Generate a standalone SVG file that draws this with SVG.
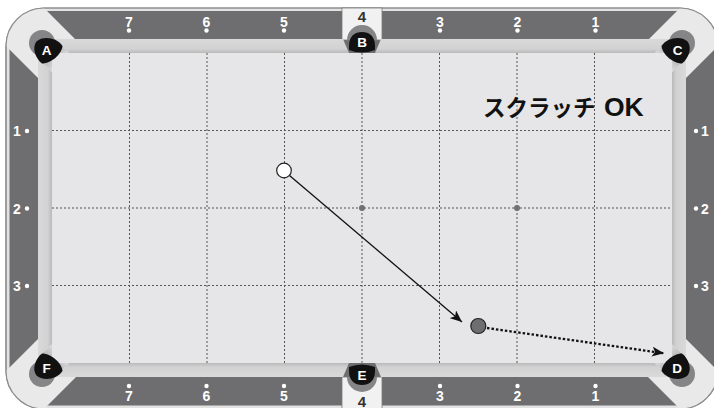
<svg xmlns="http://www.w3.org/2000/svg" xmlns:xlink="http://www.w3.org/1999/xlink" width="714" height="408" viewBox="0 0 714 408">
<style>
.num{font-family:"Liberation Sans",Arial,sans-serif;font-weight:bold;font-size:14px;fill:#ffffff;text-anchor:middle}
.four{font-family:"Liberation Sans",Arial,sans-serif;font-weight:bold;font-size:15px;fill:#333333;text-anchor:middle}
.plabel{font-family:"Liberation Sans",Arial,sans-serif;font-weight:bold;font-size:13.5px;fill:#ffffff;text-anchor:middle}
.grid{stroke:#555555;stroke-width:1;stroke-dasharray:2 2;fill:none}
.spot{fill:#ffffff}
.rail{fill:#6e6e70}
.wedge{fill:#e9e9ea}
.ring{fill:#858587}
.hole{fill:#111111}
</style>
<defs>
<linearGradient id="gTop" x1="0" y1="0" x2="0" y2="1"><stop offset="0" stop-color="#d9d9da"/><stop offset="0.7" stop-color="#d2d2d3"/><stop offset="1" stop-color="#b9b9ba"/></linearGradient>
<linearGradient id="gLeft" x1="0" y1="0" x2="1" y2="0"><stop offset="0" stop-color="#d9d9da"/><stop offset="0.7" stop-color="#d2d2d3"/><stop offset="1" stop-color="#b9b9ba"/></linearGradient>
<linearGradient id="gCh" x1="0" y1="0" x2="1" y2="1"><stop offset="0" stop-color="#7d7d7f"/><stop offset="0.8" stop-color="#e6e6e8"/></linearGradient>
<marker id="arr" markerUnits="userSpaceOnUse" markerWidth="13" markerHeight="10" refX="12" refY="5" orient="auto"><path d="M0,0 L12,5 L0,10 L3,5 Z" fill="#111"/></marker>
<path id="wedgeShape" class="wedge" d="M6,46 A38,38 0 0 1 44,8 L80,44 L42,82 Z"/>
<path id="channelShape" fill="url(#gCh)" d="M55,39 L69,53 L52,53 L52,72 L38,58 L38,39 Z"/>
<g id="cornerPocket">
<circle class="ring" cx="42" cy="43" r="13"/>
<path class="hole" d="M62.5,46 C57,37.5 43,35.5 36.5,41.5 C31.5,48 35.5,58.5 42,63.5 C50.5,63.5 61.5,55 62.5,46 Z"/>
</g>
<g id="midPocket">
<path class="ring" d="M347,40 A15,15 0 0 1 377,40 Z"/>
<path class="hole" d="M349,46 C349,36 355,32 362,32 C369,32 375,36 375,46 L375,50 Q362,55 349,50 Z"/>
</g>
</defs>

<g id="table">
<rect x="6" y="8" width="712" height="401" rx="38" fill="#e2e2e3" stroke="#8e8e90" stroke-width="1.2"/>
<rect class="rail" x="9.5" y="11" width="705" height="394.5" rx="35"/>
<use xlink:href="#wedgeShape"/>
<use xlink:href="#wedgeShape" transform="translate(724,0) scale(-1,1)"/>
<use xlink:href="#wedgeShape" transform="translate(0,417) scale(1,-1)"/>
<use xlink:href="#wedgeShape" transform="translate(724,417) scale(-1,-1)"/>
<rect x="6" y="8" width="712" height="401" rx="38" fill="none" stroke="#8e8e90" stroke-width="1.2"/>
<rect x="342" y="8" width="40" height="32" fill="#f1f1f2" stroke="#7a7a7c" stroke-width="0.8"/>
<rect x="342" y="377" width="40" height="32" fill="#f1f1f2" stroke="#7a7a7c" stroke-width="0.8"/>
<rect x="52" y="53" width="620" height="310" fill="#e6e6e8"/>
<polygon fill="url(#gTop)" points="55,39 343,39 349,53 69,53"/>
<polygon fill="url(#gTop)" points="381,39 669,39 655,53 375,53"/>
<polygon fill="url(#gTop)" transform="translate(0,416) scale(1,-1)" points="55,39 343,39 349,53 69,53"/>
<polygon fill="url(#gTop)" transform="translate(0,416) scale(1,-1)" points="381,39 669,39 655,53 375,53"/>
<polygon fill="url(#gLeft)" points="38,58 52,72 52,344 38,358"/>
<polygon fill="url(#gLeft)" transform="translate(724,0) scale(-1,1)" points="38,58 52,72 52,344 38,358"/>
<use xlink:href="#channelShape"/>
<use xlink:href="#channelShape" transform="translate(724,0) scale(-1,1)"/>
<use xlink:href="#channelShape" transform="translate(0,416) scale(1,-1)"/>
<use xlink:href="#channelShape" transform="translate(724,416) scale(-1,-1)"/>
</g>

<g id="grid">
<line class="grid" x1="129.5" y1="53" x2="129.5" y2="363"/>
<line class="grid" x1="207" y1="53" x2="207" y2="363"/>
<line class="grid" x1="284.5" y1="53" x2="284.5" y2="363"/>
<line class="grid" x1="362" y1="53" x2="362" y2="363"/>
<line class="grid" x1="439.5" y1="53" x2="439.5" y2="363"/>
<line class="grid" x1="517" y1="53" x2="517" y2="363"/>
<line class="grid" x1="594.5" y1="53" x2="594.5" y2="363"/>
<line class="grid" x1="52" y1="130.5" x2="672" y2="130.5"/>
<line class="grid" x1="52" y1="208" x2="672" y2="208"/>
<line class="grid" x1="52" y1="285.5" x2="672" y2="285.5"/>
<circle cx="362" cy="208" r="3" fill="#707072"/>
<circle cx="517" cy="208" r="3" fill="#707072"/>
</g>

<g id="rail-numbers">
<text class="num" x="129" y="27">7</text><circle class="spot" cx="129" cy="30.5" r="2.2"/>
<text class="num" x="206.5" y="27">6</text><circle class="spot" cx="206.5" cy="30.5" r="2.2"/>
<text class="num" x="284" y="27">5</text><circle class="spot" cx="284" cy="30.5" r="2.2"/>
<text class="num" x="440" y="27">3</text><circle class="spot" cx="440" cy="30.5" r="2.2"/>
<text class="num" x="517.5" y="27">2</text><circle class="spot" cx="517.5" cy="30.5" r="2.2"/>
<text class="num" x="595.5" y="27">1</text><circle class="spot" cx="595.5" cy="30.5" r="2.2"/>
<text class="num" x="129" y="401">7</text><circle class="spot" cx="129" cy="386" r="2.2"/>
<text class="num" x="206.5" y="401">6</text><circle class="spot" cx="206.5" cy="386" r="2.2"/>
<text class="num" x="284" y="401">5</text><circle class="spot" cx="284" cy="386" r="2.2"/>
<text class="num" x="440" y="401">3</text><circle class="spot" cx="440" cy="386" r="2.2"/>
<text class="num" x="517.5" y="401">2</text><circle class="spot" cx="517.5" cy="386" r="2.2"/>
<text class="num" x="595.5" y="401">1</text><circle class="spot" cx="595.5" cy="386" r="2.2"/>
<text class="num" x="17" y="136">1</text><circle class="spot" cx="27" cy="131" r="2.2"/>
<text class="num" x="17" y="213.5">2</text><circle class="spot" cx="27" cy="208.5" r="2.2"/>
<text class="num" x="17" y="291">3</text><circle class="spot" cx="27" cy="286" r="2.2"/>
<text class="num" x="705" y="136">1</text><circle class="spot" cx="696" cy="131" r="2.2"/>
<text class="num" x="705" y="213.5">2</text><circle class="spot" cx="696" cy="208.5" r="2.2"/>
<text class="num" x="705" y="291">3</text><circle class="spot" cx="696" cy="286" r="2.2"/>
<text class="four" x="362" y="21.5">4</text>
<text class="four" x="362" y="406.5">4</text>
</g>

<g id="pocket-A"><use xlink:href="#cornerPocket"/><text class="plabel" x="46.5" y="55">A</text></g>
<g id="pocket-B"><use xlink:href="#midPocket"/><text class="plabel" x="362" y="47">B</text></g>
<g id="pocket-C"><use xlink:href="#cornerPocket" transform="translate(724,0) scale(-1,1)"/><text class="plabel" x="677.5" y="55">C</text></g>
<g id="pocket-D"><use xlink:href="#cornerPocket" transform="translate(724,417) scale(-1,-1)"/><text class="plabel" x="677" y="372.5">D</text></g>
<g id="pocket-E"><use xlink:href="#midPocket" transform="translate(0,417) scale(1,-1)"/><text class="plabel" x="362" y="380">E</text></g>
<g id="pocket-F"><use xlink:href="#cornerPocket" transform="translate(0,417) scale(1,-1)"/><text class="plabel" x="46.5" y="372.5">F</text></g>

<g id="connectors">
<line x1="289.5" y1="175.5" x2="462" y2="322" stroke="#111" stroke-width="1.3" marker-end="url(#arr)"/>
<line x1="487" y1="328" x2="664" y2="353.3" stroke="#111" stroke-width="2.3" stroke-dasharray="2.5 2" marker-end="url(#arr)"/>
</g>

<g id="cue-ball"><circle cx="284" cy="170.5" r="7.3" fill="#ffffff" stroke="#222" stroke-width="1.2"/></g>
<g id="object-ball"><circle cx="478.3" cy="326" r="7.5" fill="#6e6e70" stroke="#222" stroke-width="1.2"/></g>

<g id="label-scratch">
<text x="483" y="116" font-family="'Noto Sans CJK JP', sans-serif" font-weight="bold" font-size="22.5" fill="#111">スクラッチ<tspan x="604" font-family="'Liberation Sans', Arial, sans-serif" font-size="26.5">OK</tspan></text>
</g>
</svg>
